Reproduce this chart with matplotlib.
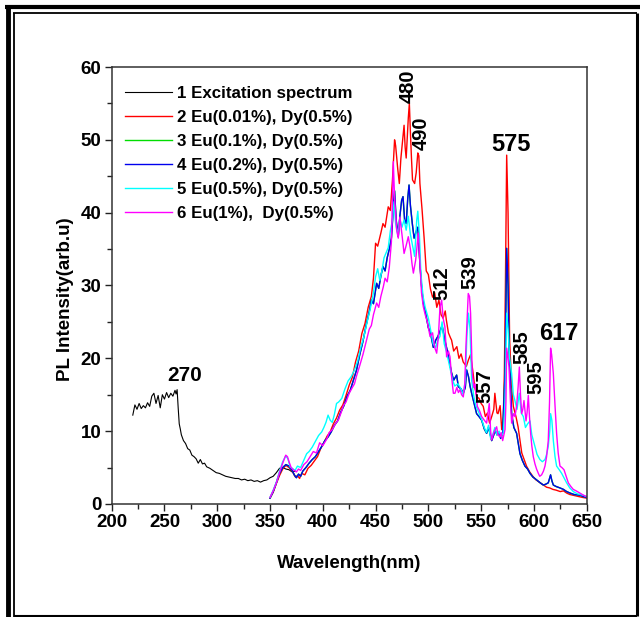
import matplotlib
matplotlib.use("Agg")
import matplotlib.pyplot as plt
from matplotlib.lines import Line2D
from matplotlib.ticker import MultipleLocator

plt.rcParams['font.family'] = ['Liberation Sans', 'DejaVu Sans']
plt.rcParams['font.weight'] = 'bold'

# ---------------- data ----------------
exc_wl = [220, 222, 224, 226, 228, 230, 232, 234, 236, 238, 240, 242, 244, 246, 248, 250,
          252, 254, 256, 258, 260, 261, 262, 263, 264, 265, 266, 268, 270, 272, 274, 276,
          278, 280, 282, 284, 286, 288, 290, 293, 296, 299, 302, 305, 308, 311, 314, 317,
          320, 323, 326, 329, 332, 335, 338, 341, 344, 347, 350, 353, 356, 359, 362, 365,
          368, 371, 374]
exc_val = [12.2, 13.6, 13.0, 13.8, 13.1, 13.5, 13.2, 13.9, 13.4, 14.8, 15.2, 13.8, 14.9, 13.2,
           15.0, 14.4, 15.3, 14.6, 15.2, 14.8, 15.6, 15.1, 15.7, 13.2, 11.0, 10.3, 9.5, 8.7,
           8.3, 7.6, 7.4, 6.7, 6.5, 6.2, 5.6, 6.1, 5.5, 5.6, 5.1, 4.9, 4.6, 4.3, 4.2, 4.0,
           3.8, 3.7, 3.6, 3.5, 3.5, 3.3, 3.4, 3.2, 3.3, 3.1, 3.2, 3.0, 3.2, 3.3, 3.6, 3.8,
           4.3, 4.9, 5.0, 4.8, 4.7, 4.4, 4.5]

red_wl = [350, 353, 356, 359, 362, 365, 368, 371, 374, 376, 378, 380, 383, 386, 389, 392, 395,
          398, 401, 404, 407, 410, 413, 416, 419, 422, 425, 428, 431, 434, 437, 440, 443, 446,
          448, 450, 452, 455, 457, 459, 462, 464, 466, 468, 469, 471, 472.5, 474, 476, 477,
          478, 479, 481, 482, 483, 484, 485, 487, 488.5, 490, 491, 492, 494, 496, 498, 500,
          502, 504, 506, 508, 510, 512, 514, 516, 517, 519, 521, 522, 524, 527, 529, 531, 533,
          536, 538, 540, 542, 544, 546, 548, 550, 552, 554, 556, 558, 560, 562, 563, 565, 566,
          568, 569.5, 571, 572, 573, 574.2, 575.5, 577, 579, 580.5, 583, 585, 587, 588.5, 591,
          593, 596, 599, 602, 606, 609, 612, 615, 618, 621, 625, 628, 631, 634, 637, 640, 643,
          646, 650]
red_val = [0.8, 1.6, 2.8, 3.9, 4.8, 5.3, 5.0, 4.5, 3.7, 3.9, 3.5, 4.2, 4.0, 4.9, 5.3, 5.9, 6.5,
           7.6, 8.4, 9.3, 9.9, 11.0, 11.8, 12.9, 13.6, 14.9, 16.3, 17.4, 19.5, 21.0, 23.4, 24.8,
           27.0, 28.5, 31.0, 35.8, 35.4, 37.2, 38.5, 38.0, 40.8, 40.3, 44.5, 50.0, 49.2, 46.0,
           44.0, 47.5, 50.5, 52.0, 49.0, 47.5, 53.0, 55.0, 51.0, 47.5, 44.5, 44.0, 45.5, 48.2,
           47.8, 44.0, 40.5, 36.5, 32.0, 31.5, 29.5, 28.4, 29.0, 27.0, 28.0, 26.0, 25.5, 26.5,
           25.3, 23.5, 22.8, 22.5, 21.0, 21.6, 20.0, 20.6, 19.5, 18.9, 19.8, 20.5, 18.4, 16.0,
           14.7, 14.5, 13.8, 13.4, 12.0, 12.5, 11.1, 12.0, 13.0, 15.2, 12.5, 12.4, 13.5, 10.2,
           12.0, 18.0, 30.0, 47.9, 40.0, 22.5, 16.0, 13.4, 12.0, 10.6, 8.5, 7.0, 6.0, 5.2, 4.4,
           3.8, 3.3, 2.9, 2.6, 2.3, 2.2, 2.0, 1.9, 1.7, 1.8, 1.5, 1.3, 1.2, 1.1, 1.0, 0.9, 0.8]

blue_wl = [350, 353, 356, 359, 362, 365, 368, 371, 373, 375, 377, 379, 381, 384, 387, 390, 393,
           396, 399, 402, 405, 408, 411, 414, 417, 420, 423, 426, 429, 432, 435, 438, 441, 444,
           446, 448, 451, 453, 455, 457, 459, 461, 463, 465, 467, 468, 469.5, 471.5, 473, 474.7,
           476, 477.5, 479, 480.5, 481.7, 483, 484.8, 486.5, 488.9, 490, 492, 493.5, 495.2, 497,
           499, 500, 502, 504.7, 507, 509, 511, 513, 515.8, 518, 520, 522, 524, 526.8, 528.4,
           531, 533.1, 535, 536.3, 538, 539.5, 541, 543, 545.7, 548, 550.5, 553, 555.2, 557,
           560, 562, 563, 565, 567.2, 568.5, 570.4, 572.6, 574.2, 575.5, 576.4, 578.9, 581,
           583.6, 585, 586.8, 589, 591.5, 594, 596.3, 599, 602.6, 606, 608.9, 611, 613.6, 615.8,
           617, 618.4, 621, 624.7, 628, 631, 634.2, 638, 643.6, 647, 650]
blue_val = [0.8, 1.7, 2.9, 4.2, 5.0, 5.4, 5.2, 4.6, 4.0, 3.6, 4.1, 3.8, 4.5, 5.0, 5.6, 6.1, 6.5,
            7.2, 7.9, 8.7, 9.2, 9.9, 10.8, 11.4, 12.6, 13.5, 14.8, 15.6, 17.0, 18.4, 20.5, 22.3,
            24.5, 26.4, 28.0, 27.5, 30.3, 29.6, 31.3, 32.6, 32.0, 33.8, 35.0, 36.5, 41.0, 43.0,
            39.0, 36.7, 39.5, 41.7, 42.2, 39.0, 38.5, 42.0, 43.8, 41.0, 38.5, 36.5, 37.6, 38.0,
            33.0, 30.0, 27.6, 26.5, 25.0, 24.2, 23.5, 21.5, 22.5, 23.0, 23.7, 24.5, 22.4, 21.0,
            19.5, 18.0, 17.0, 17.7, 16.1, 15.8, 15.2, 16.0, 18.4, 17.5, 16.2, 15.2, 14.0, 12.4,
            12.0, 11.5, 10.3, 9.7, 10.5, 8.7, 9.5, 10.2, 9.5, 9.7, 9.0, 9.7, 17.9, 35.1, 30.0,
            21.6, 12.4, 10.5, 9.7, 8.5, 6.9, 6.0, 5.2, 4.8, 4.2, 3.7, 3.3, 2.9, 2.6, 2.7, 2.9,
            4.0, 3.2, 2.6, 2.4, 2.2, 2.0, 1.7, 1.5, 1.3, 1.2, 1.0, 0.9]

# series 3 (green) lies underneath series 4 in the reference
green_wl = list(blue_wl)
green_val = list(blue_val)

cyan_wl = [350, 353, 356, 359, 362, 364.9, 367, 369, 371, 373.7, 376, 379, 382, 384.7, 387, 390,
           393, 396, 399, 401, 403, 405, 407, 409, 411, 413, 415, 418, 421, 424, 427, 430, 433,
           436, 439, 442, 445, 448, 450, 452, 454, 456, 458, 460, 462, 464, 466, 467.5, 469,
           471, 473, 475, 477, 479, 481, 483, 485, 487, 489, 490, 491.5, 493, 495, 497, 500,
           502, 504.5, 507, 509, 511, 513, 515, 517, 520, 523, 525, 528, 531, 533, 535, 536.5,
           538, 539.5, 541, 543, 545, 548, 550, 553, 555, 557, 559, 561, 563, 565, 567, 569,
           571, 572.6, 574.2, 575.5, 577, 578.9, 580.5, 582, 584, 586.2, 588, 590, 592, 594,
           596.3, 598, 601, 603, 605.7, 608, 610.5, 612, 613.6, 615, 615.8, 617, 618.4, 620,
           621.5, 624, 626.3, 628.5, 631, 634, 637.3, 641, 646.8, 650]
cyan_val = [0.9, 1.9, 3.0, 4.5, 5.8, 6.6, 6.2, 5.1, 4.9, 4.6, 5.2, 5.0, 6.0, 6.9, 7.2, 7.8, 8.6,
            9.4, 9.9, 10.5, 11.2, 12.2, 11.5, 11.2, 12.3, 13.8, 14.0, 14.5, 15.8, 16.9, 17.5,
            18.4, 19.6, 21.5, 23.0, 25.0, 26.8, 29.0, 31.2, 32.3, 30.7, 32.0, 33.8, 34.5, 35.2,
            37.5, 39.0, 41.5, 38.5, 37.0, 39.2, 38.0, 39.0, 37.6, 39.5, 37.0, 35.5, 34.0, 39.0,
            40.2, 37.0, 31.5, 28.5, 27.0, 25.5, 24.0, 22.0, 21.5, 22.5, 23.0, 25.0, 22.0, 21.0,
            19.0, 17.0, 16.2, 16.5, 15.8, 15.0, 17.0, 23.0, 26.2, 24.0, 17.0, 14.8, 13.5, 12.5,
            11.8, 10.5, 9.8, 10.8, 9.0, 9.5, 10.5, 9.5, 10.0, 9.2, 9.8, 14.0, 26.2, 24.0, 20.0,
            17.9, 15.0, 14.2, 13.0, 15.2, 12.5, 12.0, 10.5, 11.0, 11.4, 9.5, 7.9, 6.8, 6.1, 5.8,
            6.1, 6.8, 7.9, 10.0, 12.4, 11.5, 8.7, 6.5, 5.2, 4.7, 4.2, 3.6, 2.9, 2.2, 1.7, 1.4,
            1.2, 1.0]

mag_wl = [350, 353, 356, 359, 362, 364.9, 366.5, 368, 370, 372, 375, 377, 379, 382, 385, 388,
          391, 394, 397, 400, 403.7, 406, 409, 412, 415, 418, 419.5, 422, 425, 428, 430, 432,
          435, 438, 441.6, 444, 446, 448, 451, 453, 455, 457.3, 459, 461, 463, 465, 466.8, 468,
          470, 471.5, 473, 475, 477, 479, 481, 483, 484.5, 485.8, 488, 490.5, 492, 493.5, 495.2,
          497, 499, 501.6, 504, 506, 507.9, 509.5, 511, 512.6, 514, 515.7, 517.3, 519, 520.5,
          522, 523.7, 525.2, 527, 528.5, 530, 531.5, 533.1, 534.5, 535.6, 537.8, 539, 540,
          541.6, 543, 544.2, 546.4, 548.5, 550.5, 553, 555.2, 556.5, 557.7, 559, 560, 562,
          564.7, 566, 567.8, 569, 570.4, 572.6, 573.5, 574.2, 575.5, 576.4, 577.8, 578.9, 580.5,
          582, 583.6, 585, 586.2, 587.3, 588.4, 589.5, 590.6, 592.5, 593.5, 594.7, 595.8, 596.9,
          598, 599.4, 601, 602.5, 604.2, 605.5, 607.3, 609, 610.5, 612, 613.6, 614.8, 615.8,
          616.8, 618.4, 620, 621.5, 623, 624.7, 626.5, 628.5, 630.5, 632.6, 635, 637.3, 640,
          643.6, 647, 650]
mag_val = [0.9, 1.8, 2.9, 4.3, 5.6, 6.7, 6.5, 5.8, 5.0, 4.7, 4.4, 4.8, 4.6, 5.4, 5.8, 6.5, 7.2,
           7.0, 8.4, 8.0, 8.9, 9.8, 10.2, 11.0, 11.6, 12.8, 13.5, 14.0, 15.2, 16.0, 16.5, 17.6,
           19.0, 20.5, 22.6, 24.0, 24.5, 26.0, 27.6, 27.0, 28.5, 29.8, 31.0, 30.5, 32.5, 36.0,
           47.0, 42.0, 37.6, 36.5, 39.4, 37.0, 34.4, 35.5, 36.7, 35.0, 33.0, 31.7, 33.5, 37.2,
           33.0, 29.0, 27.1, 26.0, 25.0, 23.0, 23.5, 21.5, 20.7, 23.0, 27.0, 28.0, 25.5, 24.3,
           20.2, 21.0, 20.2, 17.5, 15.2, 15.2, 16.0, 15.3, 15.7, 15.0, 14.7, 16.5, 21.6, 28.9,
           28.5, 26.2, 17.9, 16.0, 16.5, 13.4, 12.8, 12.0, 11.5, 11.1, 12.5, 13.8, 10.0, 8.8,
           9.8, 10.6, 9.5, 9.2, 9.8, 8.7, 10.2, 14.0, 21.4, 20.0, 18.8, 14.0, 11.1, 12.4, 12.0,
           13.4, 16.0, 18.8, 15.0, 12.4, 13.0, 14.2, 11.4, 12.5, 14.9, 12.0, 9.7, 8.0, 6.5, 5.5,
           4.8, 4.2, 3.8, 4.0, 4.5, 5.2, 6.5, 8.7, 14.0, 21.4, 20.5, 17.9, 13.5, 9.7, 7.0, 5.2,
           5.0, 4.7, 3.8, 2.9, 2.4, 2.0, 1.8, 1.5, 1.2, 1.0]

legend_labels = ["1 Excitation spectrum", "2 Eu(0.01%), Dy(0.5%)", "3 Eu(0.1%), Dy(0.5%)",
                 "4 Eu(0.2%), Dy(0.5%)", "5 Eu(0.5%), Dy(0.5%)", "6 Eu(1%),  Dy(0.5%)"]

peak_labels = ["270", "480", "490", "512", "539", "557", "575", "585", "595", "617"]
peak_x = [269.2, 480.7, 493.5, 513.0, 539.5, 553.6, 578.3, 588.8, 602.0, 623.8]
peak_y = [17.7, 57.4, 50.9, 30.3, 31.8, 16.2, 49.3, 21.5, 17.4, 23.4]
peak_rot = [0, 90, 90, 90, 90, 90, 0, 90, 90, 0]
peak_size = [15, 14.5, 14.5, 14.5, 14.5, 14.5, 17, 14.5, 14.5, 17]

# ---------------- figure ----------------
fig = plt.figure(figsize=(6.40, 6.17), dpi=100)
ax = fig.add_axes([0.1745, 0.1832, 0.7422, 0.7082])

ax.plot(exc_wl, exc_val, color='black', lw=0.8, label=legend_labels[0])
ax.plot(red_wl, red_val, color='#ff0000', lw=1.0, label=legend_labels[1])
ax.plot(green_wl, green_val, color='#00dd00', lw=1.0, label=legend_labels[2])
ax.plot(blue_wl, blue_val, color='#0000ee', lw=1.0, label=legend_labels[3])
ax.plot(cyan_wl, cyan_val, color='#00ffff', lw=1.0, label=legend_labels[4])
ax.plot(mag_wl, mag_val, color='#ff00ff', lw=1.0, label=legend_labels[5])

ax.set_xlim(200, 650)
ax.set_ylim(0, 60)
ax.xaxis.set_major_locator(MultipleLocator(50))
ax.xaxis.set_minor_locator(MultipleLocator(25))
ax.yaxis.set_major_locator(MultipleLocator(10))
ax.yaxis.set_minor_locator(MultipleLocator(5))
ax.tick_params(which='both', direction='out', top=False, right=False, width=1.0, color='#222222')
ax.tick_params(which='major', length=5, pad=2.5, labelsize=13.5)
ax.tick_params(which='minor', length=3.5)
for lab in ax.get_xticklabels() + ax.get_yticklabels():
    lab.set_fontweight('bold')
for s in ax.spines.values():
    s.set_linewidth(1.1)
    s.set_color('#333333')

ax.set_xlabel("Wavelength(nm)", fontsize=13.5, fontweight='bold', labelpad=17)
ax.set_ylabel("PL Intensity(arb.u)", fontsize=13.5, fontweight='bold')
ax.yaxis.set_label_coords(-0.080, 0.469)

leg = ax.legend(loc='upper left', bbox_to_anchor=(0.028, 0.957), frameon=False,
                borderpad=0, borderaxespad=0, handlelength=2.75, handletextpad=0.3,
                labelspacing=0.53, prop={'size': 12.2, 'weight': 'bold'})

for t, x, y, r, s in zip(peak_labels, peak_x, peak_y, peak_rot, peak_size):
    ax.text(x, y, t, rotation=r, ha='center', va='center', fontsize=s, fontweight='bold')

# decorative page frame
def fline(x0, y0, x1, y1, lw):
    fig.add_artist(Line2D([x0 / 640, x1 / 640], [1 - y0 / 617, 1 - y1 / 617],
                          transform=fig.transFigure, color='black', lw=lw,
                          solid_capstyle='butt'))

fline(5, 7, 640, 7, 3.0)
fline(7.5, 5, 7.5, 617, 3.5)
fline(13, 13, 637, 13, 1.3)
fline(14, 13, 14, 617, 1.3)
fline(636.5, 13, 636.5, 616, 2.2)
fline(14, 615.5, 637, 615.5, 1.5)

fig.savefig("out.png", dpi=100)
